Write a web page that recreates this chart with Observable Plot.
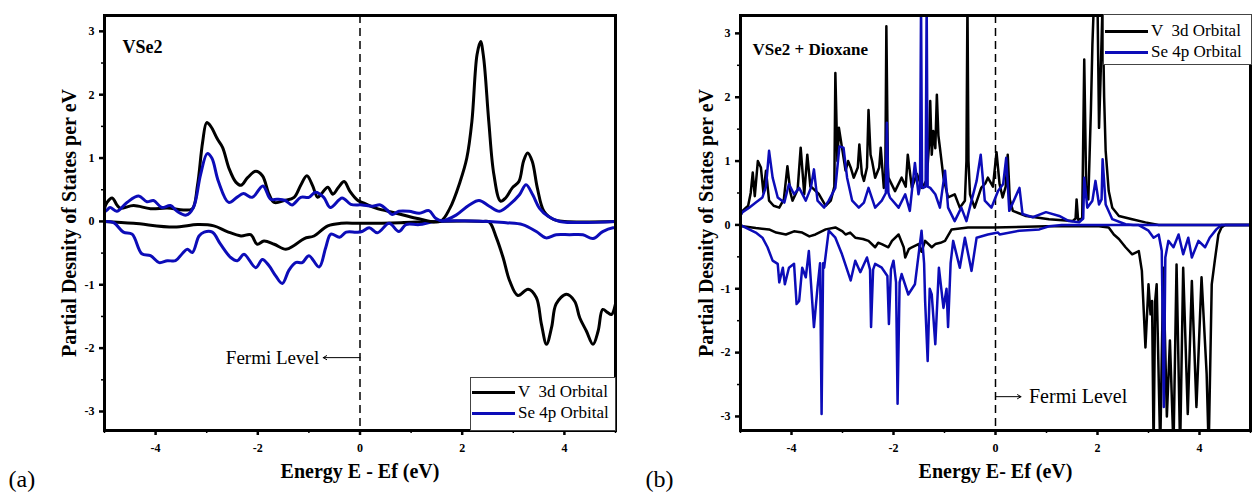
<!DOCTYPE html>
<html><head><meta charset="utf-8">
<script src="https://cdn.jsdelivr.net/npm/d3@7"></script>
<script src="https://cdn.jsdelivr.net/npm/@observablehq/plot@0.6"></script>
<style>
body{margin:0;background:#fff}
#wrap{position:relative;width:1253px;height:501px;overflow:hidden;font-family:"Liberation Serif",serif;background:#fff}
.panel{position:absolute;top:0}
.legend{position:absolute;background:#fff;border:1px solid #444;box-sizing:border-box;font-size:17px;color:#000;font-family:"Liberation Serif",serif}
.row{position:absolute;left:0;height:20px;display:flex;align-items:center;white-space:pre}
.sw{display:inline-block;height:3px;width:43px;margin-left:1px;margin-right:3px}
</style></head>
<body><div id="wrap">
<div id="pa" class="panel" style="left:0;width:625px"></div>
<div id="pb" class="panel" style="left:630px;width:623px"></div>
<div id="la" class="legend" style="left:470px;top:377px;width:146px;height:54px"></div>
<div id="lb" class="legend" style="left:1103px;top:14px;width:149px;height:51px"></div>
</div>
<script>
// ---------- data ----------
const seriesNames = ["V  3d Orbital", "Se 4p Orbital"];
const seriesColors = ["#000000", "#0c0cb8"];
const xTicksMajor = [-4, -2, 0, 2, 4];
const xTicksMinor = [-5, -3, -1, 1, 3, 5];
const yTicksMajor = [-3, -2, -1, 0, 1, 2, 3];
const yTicksMinor = [-2.5, -1.5, -0.5, 0.5, 1.5, 2.5];
const yLabel = "Partial Desnity of States per eV";

// Panel (a): VSe2  [energy, PDOS]
const aV3dUp = [[-5,0.2],[-4.95,0.3],[-4.85,0.37],[-4.75,0.25],[-4.69,0.21],[-4.43,0.25],[-4.1,0.2],[-3.77,0.21],[-3.45,0.18],[-3.28,0.2],[-3.18,0.57],[-3.08,1.25],[-3.0,1.56],[-2.92,1.5],[-2.79,1.3],[-2.69,1.17],[-2.56,0.83],[-2.43,0.62],[-2.33,0.57],[-2.2,0.69],[-2.04,0.79],[-1.91,0.72],[-1.78,0.43],[-1.68,0.3],[-1.48,0.33],[-1.29,0.38],[-1.16,0.57],[-1.04,0.72],[-0.93,0.57],[-0.83,0.38],[-0.76,0.43],[-0.63,0.54],[-0.53,0.43],[-0.42,0.54],[-0.31,0.63],[-0.2,0.48],[-0.04,0.33],[0.1,0.28],[0.31,0.21],[0.71,0.13],[1.1,0.05],[1.57,0],[1.76,0.21],[1.96,0.63],[2.09,1.0],[2.19,1.58],[2.29,2.63],[2.36,2.84],[2.42,2.58],[2.52,1.58],[2.62,0.74],[2.75,0.32],[2.85,0.37],[2.98,0.53],[3.11,0.63],[3.2,0.95],[3.28,1.08],[3.37,0.95],[3.47,0.53],[3.6,0.16],[3.79,0.03],[4,0],[5,0]];
const aSe4pUp = [[-5,0.15],[-4.95,0.18],[-4.89,0.22],[-4.76,0.16],[-4.56,0.3],[-4.33,0.4],[-4.17,0.31],[-4.04,0.33],[-3.88,0.22],[-3.71,0.25],[-3.58,0.16],[-3.4,0.1],[-3.26,0.22],[-3.12,0.74],[-2.99,1.07],[-2.9,1.0],[-2.77,0.63],[-2.57,0.3],[-2.41,0.38],[-2.28,0.44],[-2.11,0.38],[-1.9,0.56],[-1.75,0.35],[-1.62,0.35],[-1.46,0.33],[-1.33,0.26],[-1.16,0.38],[-1.0,0.38],[-0.87,0.46],[-0.71,0.38],[-0.58,0.22],[-0.35,0.37],[-0.18,0.27],[0.04,0.26],[0.24,0.24],[0.4,0.26],[0.53,0.18],[0.63,0.11],[0.76,0.16],[0.96,0.16],[1.16,0.13],[1.35,0.17],[1.48,0.05],[1.61,0.01],[1.88,0.1],[2.14,0.26],[2.33,0.33],[2.53,0.24],[2.73,0.16],[2.92,0.26],[3.12,0.42],[3.25,0.58],[3.38,0.42],[3.51,0.21],[3.68,0.08],[3.91,0],[5,0]];
const aV3dDown = [[-5,0],[-4.43,-0.03],[-3.64,-0.09],[-3.18,-0.05],[-2.86,-0.07],[-2.6,-0.16],[-2.33,-0.23],[-2.14,-0.21],[-2.01,-0.36],[-1.88,-0.31],[-1.68,-0.36],[-1.45,-0.44],[-1.29,-0.38],[-1.09,-0.27],[-0.9,-0.23],[-0.63,-0.07],[-0.37,-0.03],[0,-0.03],[0.8,-0.02],[1.5,0],[2.4,0],[2.53,-0.01],[2.67,-0.26],[2.8,-0.57],[2.93,-0.94],[3.09,-1.17],[3.29,-1.07],[3.45,-1.2],[3.55,-1.62],[3.65,-1.94],[3.75,-1.67],[3.84,-1.3],[4.04,-1.15],[4.2,-1.26],[4.3,-1.52],[4.43,-1.73],[4.56,-1.94],[4.66,-1.73],[4.75,-1.39],[4.85,-1.44],[4.92,-1.47],[5,-1.3]];
const aSe4pDown = [[-5,0],[-4.82,-0.02],[-4.63,-0.17],[-4.46,-0.2],[-4.27,-0.51],[-4.1,-0.54],[-3.93,-0.65],[-3.77,-0.62],[-3.61,-0.62],[-3.48,-0.51],[-3.38,-0.44],[-3.28,-0.49],[-3.15,-0.23],[-3.05,-0.17],[-2.89,-0.17],[-2.73,-0.36],[-2.53,-0.57],[-2.4,-0.62],[-2.27,-0.52],[-2.04,-0.73],[-1.91,-0.6],[-1.78,-0.7],[-1.65,-0.86],[-1.52,-0.98],[-1.39,-0.77],[-1.26,-0.65],[-1.13,-0.65],[-1.0,-0.54],[-0.8,-0.72],[-0.67,-0.41],[-0.57,-0.2],[-0.4,-0.25],[-0.27,-0.17],[-0.07,-0.17],[0.04,-0.16],[0.18,-0.1],[0.34,-0.18],[0.57,-0.03],[0.76,-0.16],[0.9,-0.05],[1.16,-0.05],[1.48,0],[2.53,0],[2.86,-0.02],[3.18,-0.05],[3.45,-0.16],[3.64,-0.26],[3.84,-0.21],[4.1,-0.21],[4.36,-0.21],[4.56,-0.27],[4.75,-0.16],[4.95,-0.1],[5,-0.1]];

// Panel (b): VSe2 + Dioxane  [energy, PDOS]
const bV3dUp = [[-5,0.15],[-4.96,0.22],[-4.85,0.3],[-4.8,0.5],[-4.76,0.82],[-4.72,0.45],[-4.66,1.0],[-4.6,0.9],[-4.55,0.5],[-4.5,0.85],[-4.44,0.38],[-4.35,0.3],[-4.24,0.27],[-4.15,0.4],[-4.08,0.92],[-4.02,0.5],[-3.98,0.38],[-3.88,0.55],[-3.82,1.21],[-3.75,0.48],[-3.69,1.1],[-3.63,0.6],[-3.59,0.58],[-3.46,0.48],[-3.33,0.3],[-3.23,0.38],[-3.16,0.6],[-3.14,2.38],[-3.1,1.0],[-3.07,1.52],[-3.01,1.21],[-2.94,0.85],[-2.89,1.0],[-2.84,0.9],[-2.78,0.74],[-2.7,0.9],[-2.67,1.26],[-2.62,0.8],[-2.58,0.69],[-2.52,0.9],[-2.49,1.8],[-2.45,1.1],[-2.42,1.0],[-2.36,0.74],[-2.28,0.9],[-2.25,1.21],[-2.19,0.58],[-2.16,0.8],[-2.14,3.11],[-2.11,0.9],[-2.1,0.74],[-1.97,0.53],[-1.84,0.74],[-1.76,0.6],[-1.72,1.1],[-1.64,0.58],[-1.54,0.8],[-1.44,0.58],[-1.35,0.7],[-1.3,1.3],[-1.28,1.94],[-1.25,1.1],[-1.22,1.47],[-1.18,1.2],[-1.15,2.04],[-1.12,1.4],[-1.09,1.21],[-1.02,0.74],[-0.93,0.43],[-0.8,0.48],[-0.7,0.27],[-0.6,0.38],[-0.57,1.0],[-0.55,3.5],[-0.53,1.0],[-0.5,0.48],[-0.41,0.27],[-0.28,0.58],[-0.2,0.65],[-0.15,0.74],[-0.05,0.6],[0.02,1.14],[0.08,0.64],[0.14,0.43],[0.2,0.6],[0.24,1.1],[0.28,0.4],[0.34,0.22],[0.6,0.14],[1.05,0.09],[1.51,0.06],[1.57,0.1],[1.59,0.4],[1.62,0.08],[1.7,0.1],[1.74,2.59],[1.78,0.5],[1.82,0.4],[1.87,1.78],[1.9,2.82],[1.93,3.5],[2.0,3.5],[2.03,1.52],[2.06,2.3],[2.1,3.5],[2.13,2.0],[2.16,1.16],[2.22,0.53],[2.29,0.27],[2.42,0.14],[2.68,0.09],[2.94,0.04],[3.2,0],[5,0]];
const bSe4pUp = [[-5,0.15],[-4.96,0.2],[-4.83,0.27],[-4.7,0.35],[-4.57,0.43],[-4.5,0.6],[-4.44,1.16],[-4.37,0.74],[-4.27,0.43],[-4.14,0.35],[-4.05,0.64],[-3.95,0.48],[-3.85,0.58],[-3.72,0.38],[-3.62,0.58],[-3.56,0.87],[-3.49,0.38],[-3.36,0.27],[-3.27,0.38],[-3.14,0.58],[-3.06,1.23],[-2.98,1.21],[-2.91,0.74],[-2.81,0.38],[-2.68,0.27],[-2.58,0.35],[-2.49,0.58],[-2.36,0.27],[-2.23,0.38],[-2.15,0.5],[-2.13,1.6],[-2.1,0.5],[-2.07,0.43],[-1.9,0.27],[-1.77,0.48],[-1.68,0.22],[-1.58,0.97],[-1.51,0.48],[-1.48,0.6],[-1.46,3.5],[-1.44,0.6],[-1.42,0.58],[-1.37,0.6],[-1.35,3.5],[-1.33,0.6],[-1.28,0.58],[-1.18,0.48],[-1.09,0.27],[-0.99,0.85],[-0.93,0.27],[-0.8,0.06],[-0.67,0.27],[-0.57,0.06],[-0.47,0.38],[-0.37,0.69],[-0.29,1.1],[-0.21,0.38],[-0.08,0.27],[0.05,0.53],[0.15,0.64],[0.21,1.05],[0.27,0.22],[0.47,0.58],[0.53,0.17],[0.73,0.12],[0.99,0.2],[1.25,0.14],[1.44,0.06],[1.64,0.04],[1.72,0.1],[1.74,0.74],[1.8,0.27],[1.9,0.38],[1.96,0.69],[2.03,0.32],[2.08,0.4],[2.1,1.03],[2.16,0.32],[2.29,0.09],[2.55,0.01],[2.7,0],[5,0]];
const bV3dDown = [[-5,0],[-4.96,-0.02],[-4.7,-0.05],[-4.44,-0.07],[-4.3,-0.12],[-4.11,-0.15],[-3.95,-0.1],[-3.79,-0.12],[-3.65,-0.18],[-3.53,-0.15],[-3.33,-0.07],[-3.14,-0.04],[-3.0,-0.1],[-2.94,-0.15],[-2.85,-0.12],[-2.75,-0.2],[-2.6,-0.22],[-2.49,-0.25],[-2.36,-0.35],[-2.3,-0.28],[-2.23,-0.3],[-2.1,-0.35],[-2.03,-0.25],[-1.9,-0.15],[-1.8,-0.35],[-1.77,-0.51],[-1.7,-0.38],[-1.64,-0.35],[-1.51,-0.3],[-1.45,-0.42],[-1.38,-0.25],[-1.25,-0.35],[-1.18,-0.3],[-1.08,-0.28],[-0.99,-0.25],[-0.86,-0.07],[-0.54,-0.04],[-0.03,-0.04],[1.0,-0.02],[2.03,-0.02],[2.22,-0.04],[2.32,-0.15],[2.42,-0.22],[2.55,-0.35],[2.68,-0.46],[2.81,-0.41],[2.87,-0.72],[2.94,-1.92],[3.0,-0.93],[3.04,-1.4],[3.07,-1.19],[3.1,-3.5],[3.13,-1.2],[3.16,-0.93],[3.23,-3.5],[3.29,-0.67],[3.36,-3.0],[3.42,-1.81],[3.49,-3.5],[3.55,-0.62],[3.62,-3.5],[3.68,-0.67],[3.77,-2.96],[3.85,-0.88],[3.94,-2.85],[4.04,-0.82],[4.14,-2.33],[4.18,-3.5],[4.24,-0.93],[4.3,-0.56],[4.37,-0.15],[4.43,-0.04],[4.5,0],[5,0]];
const bSe4pDown = [[-5,0],[-4.96,-0.02],[-4.83,-0.07],[-4.7,-0.12],[-4.57,-0.2],[-4.47,-0.35],[-4.37,-0.56],[-4.27,-0.61],[-4.24,-0.9],[-4.17,-0.67],[-4.13,-0.93],[-4.05,-0.67],[-3.95,-0.61],[-3.9,-1.24],[-3.85,-1.19],[-3.79,-0.67],[-3.72,-0.82],[-3.66,-0.41],[-3.56,-1.6],[-3.49,-0.98],[-3.44,-0.6],[-3.41,-2.96],[-3.38,-0.6],[-3.36,-0.67],[-3.27,-0.09],[-3.14,-0.2],[-3.01,-0.46],[-2.84,-0.87],[-2.75,-0.56],[-2.65,-0.74],[-2.52,-0.51],[-2.46,-0.7],[-2.44,-1.6],[-2.4,-0.7],[-2.36,-0.61],[-2.23,-0.67],[-2.12,-0.8],[-2.09,-1.55],[-2.05,-0.7],[-2.0,-0.56],[-1.95,-0.9],[-1.92,-2.8],[-1.88,-0.9],[-1.84,-0.77],[-1.71,-1.09],[-1.58,-0.93],[-1.45,-0.09],[-1.4,-0.6],[-1.38,-1.19],[-1.33,-2.13],[-1.29,-1.0],[-1.25,-1.09],[-1.18,-1.87],[-1.11,-0.67],[-1.02,-1.3],[-0.96,-1.0],[-0.93,-1.6],[-0.88,-0.6],[-0.83,-0.25],[-0.7,-0.67],[-0.6,-0.2],[-0.47,-0.72],[-0.37,-0.2],[-0.15,-0.15],[0.05,-0.12],[0.08,-0.15],[0.47,-0.09],[0.86,-0.07],[1.05,-0.02],[1.3,0],[2.8,0],[3.0,-0.09],[3.1,-0.2],[3.2,-0.15],[3.26,-0.41],[3.3,-2.85],[3.33,-0.51],[3.39,-0.25],[3.49,-0.35],[3.59,-0.15],[3.68,-0.46],[3.78,-0.2],[3.85,-0.51],[3.98,-0.25],[4.11,-0.35],[4.2,-0.2],[4.33,-0.07],[4.43,0],[5,0]];

// annotations (data coordinates)
const fermiA = [{x1: 0, x2: -0.72, y: -2.15, label: "Fermi Level"}];
const fermiB = [{x1: 0, x2: 0.5, y: -2.69, label: "Fermi Level"}];

// ---------- drawing ----------
function panel(o) {
  const line = (data, color) => Plot.line(data, {x: d => d[0], y: d => d[1], stroke: color, strokeWidth: o.lw, curve: o.curve, clip: true, strokeLinejoin: "round"});
  return Plot.plot({
    width: o.width, height: 501,
    marginLeft: o.marginLeft, marginRight: o.marginRight, marginTop: 15, marginBottom: 71,
    x: {domain: [-5, 5]},
    y: {domain: o.yDomain},
    style: {fontFamily: "'Liberation Serif', serif", fontWeight: "bold", fontSize: "12px", color: "black", background: "white", overflow: "visible"},
    marks: [
      Plot.ruleX([0], {stroke: "black", strokeWidth: 1.5, strokeDasharray: "8,5"}),
      line(o.vDn, seriesColors[0]),
      line(o.seDn, seriesColors[1]),
      line(o.vUp, seriesColors[0]),
      line(o.seUp, seriesColors[1]),
      Plot.arrow(o.fermi, {x1: "x1", x2: "x2", y1: "y", y2: "y", stroke: "black", strokeWidth: 1, headLength: 6}),
      Plot.text(o.fermi, {x: "x2", y: "y", text: "label", textAnchor: o.fermiAnchor, dx: o.fermiDx, fontSize: o.fermiSize, fontWeight: "normal"}),
      Plot.text([o.title], {frameAnchor: "top-left", dx: o.titleDx, dy: o.titleDy, textAnchor: "start", fontSize: o.titleSize, fontWeight: "bold"}),
      Plot.text([yLabel], {frameAnchor: "left", textAnchor: "middle", rotate: -90, dx: o.yLabelDx, fontSize: 20, fontWeight: "bold"}),
      Plot.text([o.xLabel], {frameAnchor: "bottom", textAnchor: "middle", dy: 47, fontSize: 20, fontWeight: "bold"}),
      Plot.text([o.tag], {frameAnchor: "bottom-left", dx: o.tagDx, dy: 56, textAnchor: "start", fontSize: 24, fontWeight: "normal"}),
      Plot.axisX({ticks: xTicksMajor, tickSize: 5, tickPadding: 8, tickFormat: d => String(d), label: null, strokeWidth: 2.5}),
      Plot.axisX({ticks: xTicksMinor, tickSize: 3, tickFormat: () => "", label: null, strokeWidth: 1.5}),
      Plot.axisY({ticks: yTicksMajor, tickSize: 5, tickPadding: 5, tickFormat: d => String(d), label: null, strokeWidth: 2.5}),
      Plot.axisY({ticks: yTicksMinor, tickSize: 3, tickFormat: () => "", label: null, strokeWidth: 1.5}),
      Plot.frame({stroke: "black", strokeWidth: 3})
    ]
  });
}

document.getElementById("pa").append(panel({
  width: 625, marginLeft: 104, marginRight: 10, yDomain: [-3.3, 3.25],
  vUp: aV3dUp, seUp: aSe4pUp, vDn: aV3dDown, seDn: aSe4pDown, lw: 3, curve: "catmull-rom",
  fermi: fermiA, fermiAnchor: "end", fermiDx: -4, fermiSize: 19,
  title: "VSe2", titleDx: 18, titleDy: 25, titleSize: 18,
  xLabel: "Energy E - Ef (eV)", tag: "(a)", tagDx: -96, yLabelDx: -35
}));
document.getElementById("pb").append(panel({
  width: 623, marginLeft: 110, marginRight: 3, yDomain: [-3.22, 3.28],
  vUp: bV3dUp, seUp: bSe4pUp, vDn: bV3dDown, seDn: bSe4pDown, lw: 2.5, curve: "linear",
  fermi: fermiB, fermiAnchor: "start", fermiDx: 8, fermiSize: 20,
  title: "VSe2 + Dioxane", titleDx: 12, titleDy: 27, titleSize: 17,
  xLabel: "Energy E- Ef (eV)", tag: "(b)", tagDx: -95, yLabelDx: -34
}));

function legend(el, rowTops) {
  seriesNames.forEach((name, i) => {
    const row = document.createElement("div");
    row.className = "row";
    row.style.top = rowTops[i] + "px";
    const sw = document.createElement("span");
    sw.className = "sw";
    sw.style.background = seriesColors[i];
    const tx = document.createElement("span");
    tx.textContent = name;
    row.append(sw, tx);
    el.append(row);
  });
}
legend(document.getElementById("la"), [4, 25]);
legend(document.getElementById("lb"), [6, 27]);
</script>
</body></html>
